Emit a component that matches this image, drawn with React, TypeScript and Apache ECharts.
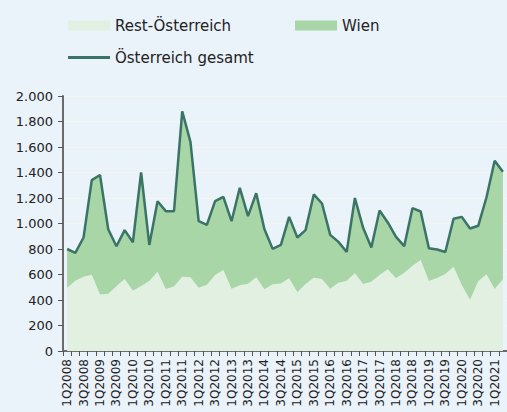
import React, { useEffect, useRef } from "react";
import * as echarts from "echarts";

const years = [2008, 2009, 2010, 2011, 2012, 2013, 2014, 2015, 2016, 2017, 2018, 2019, 2020, 2021];
const quarterNames = ["1", "2", "3", "4"];
const categories: string[] = [];
years.forEach((y) => {
  quarterNames.forEach((q) => {
    if (y === 2021 && (q === "3" || q === "4")) return;
    categories.push(`${q}Q${y}`);
  });
});

const restOesterreich = [
  497, 551, 583, 599, 444, 450, 507, 565, 473, 510, 549, 622, 486, 505, 583, 578,
  497, 520, 596, 635, 489, 515, 528, 578, 484, 523, 530, 570, 460, 525, 575, 565,
  489, 536, 551, 609, 525, 544, 596, 641, 570, 614, 669, 714, 549, 572, 604, 661,
  518, 402, 547, 601, 486, 562,
];

const wien = [
  303, 219, 307, 741, 936, 505, 315, 383, 380, 890, 283, 553, 611, 592, 1297, 1062,
  521, 470, 579, 574, 529, 765, 530, 660, 471, 278, 302, 482, 430, 423, 653, 592,
  422, 320, 226, 591, 441, 267, 506, 367, 325, 208, 451, 380, 257, 224, 173, 376,
  534, 559, 435, 603, 1006, 844,
];

const gesamt = [
  800, 770, 890, 1340, 1380, 955, 822, 948, 853, 1400, 832, 1175, 1097, 1097, 1880, 1640,
  1018, 990, 1175, 1209, 1018, 1280, 1058, 1238, 955, 801, 832, 1052, 890, 948, 1228, 1157,
  911, 856, 777, 1200, 966, 811, 1102, 1008, 895, 822, 1120, 1094, 806, 796, 777, 1037,
  1052, 961, 982, 1204, 1492, 1406,
];

const yTicks = { min: 0, max: 2000, interval: 200 };

const BG = "#EAF2FA";
const C_REST = "#E2F0E2";
const C_WIEN = "#A9D6A6";
const C_LINE = "#3A7467";
const FONT = "DejaVu Sans";
const TXT = "#222222";

export default function App() {
  const ref = useRef<HTMLDivElement>(null);
  useEffect(() => {
    document.body.style.margin = "0";
    document.body.style.background = BG;
    if (!ref.current) return;
    const chart = echarts.init(ref.current, undefined, { renderer: "svg" });
    const legendText = { color: TXT, fontFamily: FONT, fontSize: 15 };
    chart.setOption({
      animation: false,
      backgroundColor: BG,
      textStyle: { fontFamily: FONT },
      legend: [
        {
          left: 63,
          top: 13,
          itemWidth: 42,
          itemHeight: 10,
          itemGap: 5,
          icon: "rect",
          textStyle: legendText,
          data: ["Rest-Österreich"],
        },
        {
          left: 290,
          top: 13,
          itemWidth: 42,
          itemHeight: 10,
          icon: "rect",
          textStyle: legendText,
          data: ["Wien"],
        },
        {
          left: 63,
          top: 45,
          itemWidth: 42,
          itemHeight: 3,
          icon: "rect",
          textStyle: legendText,
          data: ["Österreich gesamt"],
        },
      ],
      grid: { left: 63, top: 96, width: 445, height: 255, containLabel: false },
      xAxis: {
        type: "category",
        data: categories,
        boundaryGap: true,
        axisLine: { lineStyle: { color: "#6B6B6B", width: 2 } },
        axisTick: { show: true, interval: 0, length: 5, lineStyle: { color: "#555" } },
        axisLabel: {
          interval: 1,
          rotate: 90,
          color: TXT,
          fontFamily: FONT,
          fontSize: 12,
          margin: 8,
        },
        splitLine: { show: false },
      },
      yAxis: {
        type: "value",
        min: yTicks.min,
        max: yTicks.max,
        interval: yTicks.interval,
        axisLine: { show: true, lineStyle: { color: "#6B6B6B", width: 2 } },
        axisTick: { show: true, length: 5, lineStyle: { color: "#555" } },
        axisLabel: {
          color: TXT,
          fontFamily: FONT,
          fontSize: 13,
          margin: 10,
          formatter: (v: number) => String(v).replace(/\B(?=(\d{3})+(?!\d))/g, "."),
        },
        splitLine: { show: true, lineStyle: { color: "#F4F4F0", width: 1 } },
      },
      series: [
        {
          name: "Rest-Österreich",
          type: "line",
          stack: "total",
          data: restOesterreich,
          symbol: "none",
          lineStyle: { width: 0 },
          itemStyle: { color: C_REST },
          areaStyle: { color: C_REST, opacity: 1 },
        },
        {
          name: "Wien",
          type: "line",
          stack: "total",
          data: wien,
          symbol: "none",
          lineStyle: { width: 0 },
          itemStyle: { color: C_WIEN },
          areaStyle: { color: C_WIEN, opacity: 1 },
        },
        {
          name: "Österreich gesamt",
          type: "line",
          data: gesamt,
          symbol: "none",
          lineStyle: { width: 2.5, color: C_LINE },
          itemStyle: { color: C_LINE },
          z: 5,
        },
      ],
    });
    return () => chart.dispose();
  }, []);
  return <div ref={ref} style={{ position: "absolute", left: 0, top: 0, width: 507, height: 412 }} />;
}
